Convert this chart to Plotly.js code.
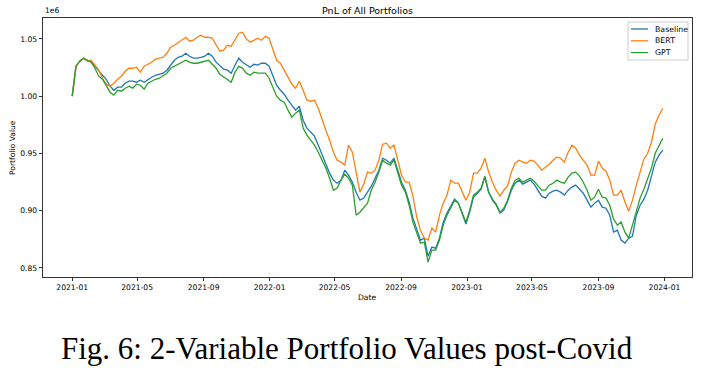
<!DOCTYPE html>
<html>
<head>
<meta charset="utf-8">
<script src="https://cdn.plot.ly/plotly-3.0.1.min.js"></script>
<style>
  html, body { margin: 0; padding: 0; background: #fff; }
  #chart { width: 704px; height: 370px; }
</style>
</head>
<body>
<div id="chart"></div>
<script>
// Weekly dates (Fridays)
const dates = [
 "2021-01-01","2021-01-08","2021-01-15","2021-01-22","2021-01-29",
 "2021-02-05","2021-02-12","2021-02-19","2021-02-26",
 "2021-03-05","2021-03-12","2021-03-19","2021-03-26",
 "2021-04-02","2021-04-09","2021-04-16","2021-04-23","2021-04-30",
 "2021-05-07","2021-05-14","2021-05-21","2021-05-28",
 "2021-06-04","2021-06-11","2021-06-18","2021-06-25",
 "2021-07-02","2021-07-09","2021-07-16","2021-07-23","2021-07-30",
 "2021-08-06","2021-08-13","2021-08-20","2021-08-27",
 "2021-09-03","2021-09-10","2021-09-17","2021-09-24",
 "2021-10-01","2021-10-08","2021-10-15","2021-10-22","2021-10-29",
 "2021-11-05","2021-11-12","2021-11-19","2021-11-26",
 "2021-12-03","2021-12-10","2021-12-17","2021-12-24","2021-12-31",
 "2022-01-07","2022-01-14","2022-01-21","2022-01-28",
 "2022-02-04","2022-02-11","2022-02-18","2022-02-25",
 "2022-03-04","2022-03-11","2022-03-18","2022-03-25",
 "2022-04-01","2022-04-08","2022-04-15","2022-04-22","2022-04-29",
 "2022-05-06","2022-05-13","2022-05-20","2022-05-27",
 "2022-06-03","2022-06-10","2022-06-17","2022-06-24",
 "2022-07-01","2022-07-08","2022-07-15","2022-07-22","2022-07-29",
 "2022-08-05","2022-08-12","2022-08-19","2022-08-26",
 "2022-09-02","2022-09-09","2022-09-16","2022-09-23","2022-09-30",
 "2022-10-07","2022-10-14","2022-10-21","2022-10-28",
 "2022-11-04","2022-11-11","2022-11-18","2022-11-25",
 "2022-12-02","2022-12-09","2022-12-16","2022-12-23","2022-12-30",
 "2023-01-06","2023-01-13","2023-01-20","2023-01-27",
 "2023-02-03","2023-02-10","2023-02-17","2023-02-24",
 "2023-03-03","2023-03-10","2023-03-17","2023-03-24","2023-03-31",
 "2023-04-07","2023-04-14","2023-04-21","2023-04-28",
 "2023-05-05","2023-05-12","2023-05-19","2023-05-26",
 "2023-06-02","2023-06-09","2023-06-16","2023-06-23","2023-06-30",
 "2023-07-07","2023-07-14","2023-07-21","2023-07-28",
 "2023-08-04","2023-08-11","2023-08-18","2023-08-25",
 "2023-09-01","2023-09-08","2023-09-15","2023-09-22","2023-09-29",
 "2023-10-06","2023-10-13","2023-10-20","2023-10-27",
 "2023-11-03","2023-11-10","2023-11-17","2023-11-24",
 "2023-12-01","2023-12-08","2023-12-15","2023-12-22","2023-12-29"
];

// Portfolio values in units of 1e6
const baseline = [
 1.0000,1.0262,1.0306,1.0332,1.0314,1.0297,1.0262,1.0218,1.0183,1.0148,
 1.0087,1.0052,1.0079,1.0079,1.0113,1.0131,1.0131,1.0122,1.0140,1.0122,
 1.0148,1.0166,1.0183,1.0192,1.0201,1.0227,1.0271,1.0314,1.0340,1.0349,
 1.0375,1.0349,1.0332,1.0332,1.0340,1.0349,1.0375,1.0349,1.0297,1.0262,
 1.0236,1.0227,1.0201,1.0271,1.0332,1.0297,1.0271,1.0253,1.0279,1.0271,
 1.0288,1.0288,1.0262,1.0175,1.0096,1.0052,1.0017,0.9965,0.9921,0.9878,
 0.9913,0.9790,0.9721,0.9686,0.9651,0.9572,0.9485,0.9398,0.9328,0.9267,
 0.9240,0.9267,0.9354,0.9310,0.9249,0.9162,0.9092,0.9110,0.9162,0.9214,
 0.9284,0.9354,0.9459,0.9441,0.9415,0.9459,0.9354,0.9249,0.9179,0.9075,
 0.8935,0.8848,0.8743,0.8760,0.8603,0.8682,0.8673,0.8760,0.8900,0.8979,
 0.9040,0.9101,0.9066,0.8979,0.8883,0.8987,0.9118,0.9153,0.9188,0.9293,
 0.9162,0.9092,0.9048,0.8979,0.9005,0.9083,0.9179,0.9240,0.9267,0.9232,
 0.9249,0.9267,0.9232,0.9179,0.9127,0.9110,0.9153,0.9171,0.9179,0.9162,
 0.9136,0.9179,0.9206,0.9223,0.9188,0.9153,0.9092,0.9031,0.9066,0.9092,
 0.9031,0.9022,0.8961,0.8813,0.8830,0.8743,0.8717,0.8760,0.8778,0.8961,
 0.9048,0.9101,0.9179,0.9310,0.9424,0.9485,0.9529
];
const bert = [
 1.0000,1.0262,1.0306,1.0332,1.0306,1.0314,1.0271,1.0227,1.0157,1.0105,
 1.0087,1.0113,1.0148,1.0175,1.0218,1.0244,1.0244,1.0253,1.0210,1.0262,
 1.0279,1.0297,1.0323,1.0332,1.0340,1.0375,1.0428,1.0445,1.0471,1.0489,
 1.0515,1.0480,1.0489,1.0515,1.0532,1.0515,1.0515,1.0506,1.0445,1.0393,
 1.0402,1.0445,1.0436,1.0489,1.0550,1.0559,1.0498,1.0471,1.0489,1.0506,
 1.0489,1.0524,1.0506,1.0402,1.0314,1.0288,1.0227,1.0157,1.0105,1.0070,
 1.0131,1.0052,0.9965,0.9956,0.9965,0.9895,0.9790,0.9703,0.9616,0.9511,
 0.9441,0.9424,0.9398,0.9572,0.9511,0.9337,0.9162,0.9232,0.9337,0.9328,
 0.9354,0.9441,0.9581,0.9590,0.9546,0.9572,0.9441,0.9310,0.9249,0.9249,
 0.9127,0.8944,0.8830,0.8760,0.8743,0.8848,0.8813,0.8961,0.9066,0.9136,
 0.9267,0.9240,0.9240,0.9162,0.9092,0.9162,0.9328,0.9328,0.9372,0.9459,
 0.9337,0.9249,0.9179,0.9127,0.9179,0.9214,0.9337,0.9415,0.9441,0.9424,
 0.9415,0.9441,0.9433,0.9398,0.9354,0.9380,0.9406,0.9441,0.9467,0.9459,
 0.9424,0.9511,0.9572,0.9546,0.9485,0.9441,0.9398,0.9310,0.9310,0.9433,
 0.9372,0.9345,0.9267,0.9136,0.9136,0.9179,0.9075,0.8996,0.9092,0.9223,
 0.9345,0.9450,0.9502,0.9598,0.9756,0.9834,0.9895
];
const gpt = [
 1.0000,1.0262,1.0306,1.0332,1.0314,1.0297,1.0244,1.0175,1.0148,1.0087,
 1.0035,1.0009,1.0052,1.0044,1.0070,1.0087,1.0070,1.0105,1.0096,1.0061,
 1.0113,1.0131,1.0148,1.0157,1.0183,1.0201,1.0244,1.0262,1.0279,1.0297,
 1.0314,1.0297,1.0288,1.0288,1.0297,1.0306,1.0314,1.0279,1.0244,1.0192,
 1.0166,1.0148,1.0122,1.0210,1.0262,1.0244,1.0201,1.0183,1.0210,1.0201,
 1.0201,1.0201,1.0157,1.0070,1.0000,0.9965,0.9948,0.9878,0.9817,0.9852,
 0.9878,0.9721,0.9660,0.9616,0.9572,0.9511,0.9441,0.9372,0.9284,0.9179,
 0.9197,0.9267,0.9319,0.9284,0.9223,0.8961,0.8987,0.9031,0.9066,0.9179,
 0.9249,0.9337,0.9441,0.9415,0.9398,0.9441,0.9337,0.9223,0.9162,0.9048,
 0.8900,0.8813,0.8717,0.8725,0.8551,0.8656,0.8656,0.8743,0.8874,0.8961,
 0.9022,0.9092,0.9066,0.8987,0.8900,0.9005,0.9136,0.9162,0.9197,0.9302,
 0.9162,0.9101,0.9057,0.8987,0.9022,0.9092,0.9197,0.9267,0.9284,0.9249,
 0.9267,0.9284,0.9258,0.9223,0.9179,0.9179,0.9223,0.9240,0.9267,0.9249,
 0.9240,0.9293,0.9328,0.9337,0.9302,0.9249,0.9179,0.9092,0.9118,0.9188,
 0.9118,0.9110,0.9048,0.8926,0.8874,0.8900,0.8813,0.8760,0.8874,0.9005,
 0.9110,0.9188,0.9284,0.9372,0.9502,0.9572,0.9633
];

const yTicks = [0.85, 0.90, 0.95, 1.00, 1.05];
const yTickText = ["0.85", "0.90", "0.95", "1.00", "1.05"];
const xTicks = ["2021-01-01","2021-05-01","2021-09-01","2022-01-01","2022-05-01",
                "2022-09-01","2023-01-01","2023-05-01","2023-09-01","2024-01-01"];
const xTickText = ["2021-01","2021-05","2021-09","2022-01","2022-05",
                   "2022-09","2023-01","2023-05","2023-09","2024-01"];

const series = [
  { name: "Baseline", y: baseline, color: "#1f77b4" },
  { name: "BERT", y: bert, color: "#ff7f0e" },
  { name: "GPT", y: gpt, color: "#2ca02c" }
];

const traces = series.map(s => ({
  type: "scatter", mode: "lines", name: s.name,
  x: dates, y: s.y,
  line: { color: s.color, width: 1.3 }
}));

const font = "DejaVu Sans, sans-serif";

// Compact matplotlib-style legend (box, line samples, labels)
const plotL = 43, plotT = 18, plotW = 649, plotH = 259;
const px = x => (x - plotL) / plotW;
const py = y => (plotT + plotH - y) / plotH;
const legendShapes = [
  { type: "rect", xref: "paper", yref: "paper", layer: "above",
    x0: px(628), x1: px(688), y0: py(60), y1: py(22),
    fillcolor: "rgba(255,255,255,0.8)", line: { color: "#cccccc", width: 1 } }
];
const legendNotes = [];
series.forEach((s, i) => {
  const yy = 29 + i * 11.8;
  legendShapes.push({ type: "line", xref: "paper", yref: "paper", layer: "above",
    x0: px(631), x1: px(648), y0: py(yy), y1: py(yy),
    line: { color: s.color, width: 1.3 } });
  legendNotes.push({ text: s.name, xref: "paper", yref: "paper", x: px(653), y: py(yy),
    xanchor: "left", yanchor: "middle", showarrow: false,
    font: { family: font, size: 7.8, color: "#000" } });
});

const layout = {
  width: 704, height: 370,
  margin: { l: 43, r: 12, t: 18, b: 93 },
  paper_bgcolor: "#fff", plot_bgcolor: "#fff",
  showlegend: false,
  title: {
    text: "PnL of All Portfolios",
    x: 0.5, xref: "paper", y: 1 - 11/370, yref: "container", yanchor: "middle",
    font: { family: font, size: 9.5, color: "#000" }
  },
  xaxis: {
    type: "date",
    range: ["2020-11-08", "2024-02-21"],
    tickvals: xTicks, ticktext: xTickText,
    ticks: "outside", ticklen: 3.5, tickwidth: 0.8, tickcolor: "#000",
    showline: true, linecolor: "#000", linewidth: 0.8, mirror: true,
    showgrid: false, zeroline: false,
    tickfont: { family: font, size: 7.6, color: "#000" }
  },
  yaxis: {
    range: [0.8421, 1.0683],
    tickvals: yTicks, ticktext: yTickText,
    ticks: "outside", ticklen: 3.5, tickwidth: 0.8, tickcolor: "#000",
    showline: true, linecolor: "#000", linewidth: 0.8, mirror: true,
    showgrid: false, zeroline: false,
    tickfont: { family: font, size: 7.6, color: "#000" }
  },
  shapes: legendShapes,
  annotations: [
    { text: "1e6", xref: "paper", yref: "paper", x: 0, y: 1.0, xanchor: "left", yanchor: "bottom",
      showarrow: false, font: { family: font, size: 7.6, color: "#000" }, yshift: 1 },
    { text: "Portfolio Value", xref: "paper", yref: "paper", x: px(12), y: py(148),
      xanchor: "center", yanchor: "middle", textangle: -90, showarrow: false,
      font: { family: font, size: 7.6, color: "#000" } },
    { text: "Date", xref: "paper", yref: "paper", x: px(367), y: py(297),
      xanchor: "center", yanchor: "middle", showarrow: false,
      font: { family: font, size: 7.6, color: "#000" } },
    { text: "Fig. 6: 2-Variable Portfolio Values post-Covid", xref: "paper", yref: "paper",
      x: px(347), y: py(348), xanchor: "center", yanchor: "middle", showarrow: false,
      font: { family: "Liberation Serif, Times New Roman, serif", size: 31, color: "#000" } }
  ].concat(legendNotes)
};

Plotly.newPlot("chart", traces, layout, { staticPlot: true, displayModeBar: false });
</script>
</body>
</html>
